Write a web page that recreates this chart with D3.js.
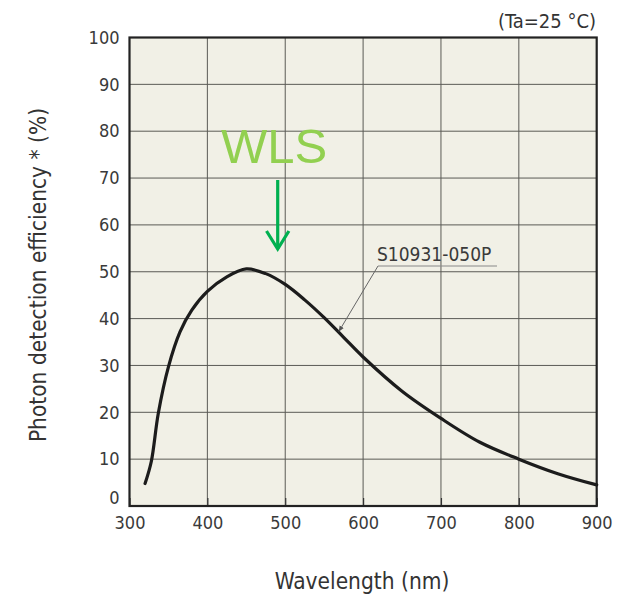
<!DOCTYPE html>
<html>
<head>
<meta charset="utf-8">
<script src="https://cdn.jsdelivr.net/npm/d3@7"></script>
<style>
  body { margin: 0; background: #fff; }
  svg { display: block; font-family: "DejaVu Sans Condensed", "DejaVu Sans", sans-serif; font-stretch: condensed; }
</style>
</head>
<body>
<svg id="chart" width="626" height="595"></svg>
<script>
// wavelength (nm) vs photon detection efficiency (%), S10931-050P
var wavelength = [320, 328, 337, 350, 365, 380, 400, 425, 450, 475, 500, 525, 550, 575, 600, 650, 700, 750, 800, 850, 900];
var pde        = [4.8, 9.5, 19.8, 29.7, 37.2, 41.8, 45.8, 48.9, 50.6, 49.6, 47.3, 44.0, 40.2, 36.0, 31.8, 24.5, 18.7, 13.6, 10.0, 6.9, 4.5];
var xTicks = [300, 400, 500, 600, 700, 800, 900];
var yTicks = [0, 10, 20, 30, 40, 50, 60, 70, 80, 90, 100];

var svg = d3.select('#chart');
var pL = 129.5, pR = 596.7, pT = 37.5, pB = 506;

var x = d3.scaleLinear().domain([300, 900]).range([pL, pR]);
var y = d3.scaleLinear().domain([0, 100]).range([pB, pT]);

// plot background
svg.append('rect')
  .attr('x', pL).attr('y', pT)
  .attr('width', pR - pL).attr('height', pB - pT)
  .attr('fill', '#f1f0e6');

// grid
var grid = svg.append('g').attr('stroke', '#5a5a55').attr('stroke-width', 1);
grid.selectAll('line.v').data(xTicks.slice(1, -1)).enter().append('line')
  .attr('x1', d => x(d)).attr('x2', d => x(d))
  .attr('y1', pT).attr('y2', pB);
grid.selectAll('line.h').data(yTicks.slice(1, -1)).enter().append('line')
  .attr('x1', pL).attr('x2', pR)
  .attr('y1', d => y(d)).attr('y2', d => y(d));

// small inner ticks on the bottom axis
svg.append('g').attr('transform', 'translate(0,' + pB + ')')
  .call(d3.axisBottom(x).tickValues(xTicks).tickSize(-8).tickFormat(''))
  .call(g => g.select('.domain').remove())
  .call(g => g.selectAll('line').attr('stroke', '#333').attr('stroke-width', 1.2));

// axes labels
var xAxis = svg.append('g').attr('transform', 'translate(0,' + pB + ')')
  .call(d3.axisBottom(x).tickValues(xTicks).tickSize(0).tickPadding(10));
xAxis.select('.domain').remove();
xAxis.selectAll('text').attr('font-size', 18).attr('fill', '#3a3a3a')
  .style('font-family', '"DejaVu Sans Condensed", "DejaVu Sans", sans-serif');

var yAxis = svg.append('g').attr('transform', 'translate(' + pL + ',0)')
  .call(d3.axisLeft(y).tickValues(yTicks).tickSize(0).tickPadding(10));
yAxis.select('.domain').remove();
yAxis.selectAll('text').attr('font-size', 18).attr('fill', '#3a3a3a')
  .style('font-family', '"DejaVu Sans Condensed", "DejaVu Sans", sans-serif')
  .filter(d => d === 0).attr('y', -8);

// frame
svg.append('rect')
  .attr('x', pL).attr('y', pT)
  .attr('width', pR - pL).attr('height', pB - pT)
  .attr('fill', 'none').attr('stroke', '#222').attr('stroke-width', 2.2);

// curve
var line = d3.line()
  .x((d, i) => x(wavelength[i]))
  .y(d => y(d))
  .curve(d3.curveCatmullRom.alpha(0.5));
svg.append('path').datum(pde)
  .attr('d', line)
  .attr('fill', 'none').attr('stroke', '#1c1c1c').attr('stroke-width', 3.2)
  .attr('stroke-linecap', 'round');

// series label with pointer
svg.append('defs').append('marker')
  .attr('id', 'tip').attr('viewBox', '0 0 10 10')
  .attr('refX', 9).attr('refY', 5)
  .attr('markerWidth', 6).attr('markerHeight', 6)
  .attr('orient', 'auto')
  .append('path').attr('d', 'M0,1 L10,5 L0,9 Z').attr('fill', '#555');

svg.append('line')
  .attr('x1', 378).attr('y1', 266)
  .attr('x2', x(569)).attr('y2', y(37.5) + 1)
  .attr('stroke', '#666').attr('stroke-width', 1)
  .attr('marker-end', 'url(#tip)');
svg.append('line')
  .attr('x1', 378).attr('x2', 497).attr('y1', 266).attr('y2', 266)
  .attr('stroke', '#888').attr('stroke-width', 1);
svg.append('text')
  .attr('x', 377).attr('y', 261)
  .attr('font-size', 19).attr('fill', '#3a3a3a')
  .text('S10931-050P');

// WLS annotation
svg.append('text')
  .attr('x', 221).attr('y', 163)
  .style('font-family', '"Liberation Sans", Arial, sans-serif')
  .attr('font-size', 49).attr('fill', '#92d050')
  .text('WLS');
var arrow = svg.append('g').attr('stroke', '#00b050').attr('stroke-width', 3.2)
  .attr('fill', 'none').attr('stroke-linecap', 'butt');
arrow.append('line').attr('x1', 277.7).attr('x2', 277.7).attr('y1', 180).attr('y2', 249);
arrow.append('path').attr('d', 'M266.5,231 L277.7,249 L288.9,231');

// titles
svg.append('text')
  .attr('x', 596).attr('y', 28)
  .attr('text-anchor', 'end')
  .attr('font-size', 20).attr('fill', '#333')
  .text('(Ta=25 °C)');

svg.append('text')
  .attr('x', 362).attr('y', 589)
  .attr('text-anchor', 'middle')
  .attr('font-size', 22.5).attr('fill', '#333')
  .text('Wavelength (nm)');

svg.append('text')
  .attr('transform', 'translate(38.5,275) rotate(-90)')
  .attr('text-anchor', 'middle').attr('dy', '0.35em')
  .attr('font-size', 22.5).attr('fill', '#333')
  .text('Photon detection efficiency * (%)');
</script>
</body>
</html>
